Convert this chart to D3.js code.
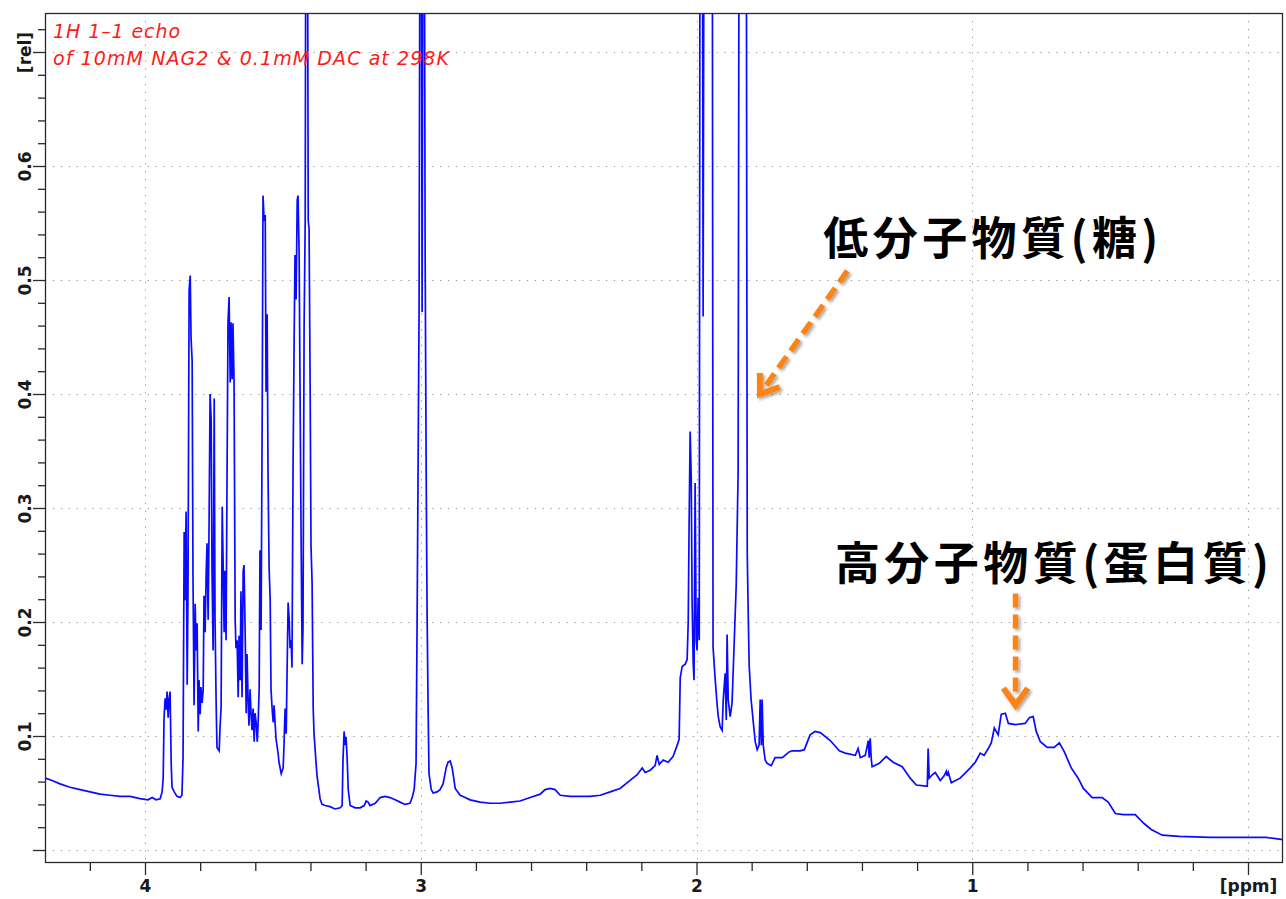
<!DOCTYPE html>
<html>
<head>
<meta charset="utf-8">
<script src="https://cdn.jsdelivr.net/npm/d3@7"></script>
<style>
  html, body { margin: 0; padding: 0; background: #ffffff; }
  svg { display: block; }
</style>
</head>
<body>
<svg id="chart" width="1286" height="899"></svg>
<script>
// 1H spectrum, 1-1 echo: chemical shift (ppm) and relative intensity.
// Values above the frame (0.95) are peaks that run off the top of the plot.
const shiftPpm = [
  4.362, 4.337, 4.308, 4.272, 4.235, 4.199, 4.163, 4.127, 4.090, 4.054, 4.018, 3.989, 3.974, 3.960, 3.945, 3.938,
  3.934, 3.931, 3.927, 3.923, 3.920, 3.916, 3.913, 3.909, 3.905, 3.902, 3.894, 3.884, 3.873, 3.866,
  3.862, 3.858, 3.855, 3.851, 3.847, 3.844, 3.840, 3.836, 3.833, 3.829, 3.826, 3.822, 3.818, 3.815, 3.811, 3.807,
  3.804, 3.800, 3.797, 3.793, 3.789, 3.786, 3.782, 3.778, 3.775, 3.771, 3.768, 3.764, 3.760, 3.757, 3.753, 3.749,
  3.746, 3.742, 3.739, 3.731, 3.728, 3.724, 3.720, 3.717, 3.713, 3.710, 3.706, 3.702, 3.699, 3.695, 3.691, 3.688,
  3.684, 3.681, 3.677, 3.673, 3.670, 3.666, 3.662, 3.659, 3.655, 3.652, 3.648, 3.644, 3.641, 3.637, 3.633, 3.630,
  3.626, 3.623, 3.619, 3.615, 3.612, 3.608, 3.604, 3.601, 3.597, 3.593, 3.590, 3.586, 3.583, 3.579, 3.575, 3.572,
  3.568, 3.564, 3.561, 3.557, 3.554, 3.550, 3.546, 3.543, 3.539, 3.535, 3.532, 3.525, 3.517, 3.514, 3.506, 3.499,
  3.496, 3.492, 3.488, 3.485, 3.481, 3.477, 3.474, 3.470, 3.467, 3.463, 3.459, 3.456, 3.452, 3.448, 3.445, 3.441,
  3.438, 3.434, 3.430, 3.427, 3.423, 3.419, 3.416, 3.412, 3.408, 3.405, 3.401, 3.398, 3.394, 3.390, 3.387, 3.379,
  3.376, 3.369, 3.365, 3.358,
  3.347, 3.329, 3.311, 3.292, 3.285, 3.282, 3.278, 3.274, 3.271, 3.267, 3.263, 3.256, 3.238, 3.220, 3.205, 3.198,
  3.191, 3.184, 3.165, 3.147, 3.129, 3.111, 3.093, 3.075, 3.057, 3.039, 3.031, 3.024, 3.017, 3.013, 3.010, 3.006,
  3.002, 2.999, 2.995, 2.991, 2.988, 2.984, 2.980, 2.977, 2.973, 2.970, 2.962, 2.955, 2.941, 2.930, 2.919, 2.908,
  2.901, 2.893, 2.886, 2.875, 2.857, 2.839, 2.821, 2.785, 2.748, 2.712, 2.676, 2.640, 2.603, 2.567, 2.549, 2.531,
  2.513, 2.494, 2.458, 2.422, 2.386, 2.349, 2.313, 2.277, 2.241, 2.215, 2.197, 2.186, 2.168, 2.150, 2.143, 2.135,
  2.121, 2.103, 2.085, 2.070, 2.063, 2.059, 2.052, 2.041, 2.034, 2.030, 2.027, 2.023, 2.019, 2.016, 2.012, 2.009,
  2.005, 2.001, 1.998, 1.994, 1.990, 1.987, 1.979, 1.976, 1.972, 1.943, 1.940, 1.932, 1.925, 1.921, 1.914, 1.907,
  1.903, 1.896, 1.892, 1.889, 1.885, 1.878, 1.871, 1.863, 1.856, 1.852, 1.849, 1.845, 1.820, 1.816, 1.812, 1.809,
  1.802, 1.794, 1.787, 1.780, 1.773, 1.769, 1.765, 1.762, 1.758, 1.751, 1.744, 1.729, 1.715, 1.689, 1.664, 1.653,
  1.624, 1.609, 1.588, 1.570, 1.551, 1.515, 1.482, 1.461, 1.424, 1.414, 1.406, 1.388, 1.377, 1.374, 1.370, 1.366,
  1.363, 1.337, 1.312, 1.287, 1.254, 1.225, 1.203, 1.167, 1.163, 1.160, 1.156, 1.145, 1.134, 1.116, 1.102, 1.094,
  1.091, 1.087, 1.076, 1.044, 1.007, 0.989, 0.971, 0.957, 0.942, 0.931, 0.920, 0.913, 0.906, 0.895, 0.880, 0.869,
  0.844, 0.808, 0.793, 0.779, 0.768, 0.753, 0.728, 0.703, 0.684, 0.666, 0.641, 0.616, 0.597, 0.565, 0.529, 0.507,
  0.481, 0.452, 0.409, 0.376, 0.351, 0.311, 0.249, 0.137, 0.010, -0.066, -0.128
];
const intensity = [
  0.063, 0.061, 0.058, 0.055, 0.053, 0.051, 0.049, 0.048, 0.047, 0.047, 0.045, 0.044, 0.046, 0.044, 0.045, 0.051,
  0.063, 0.115, 0.133, 0.123, 0.139, 0.116, 0.132, 0.139, 0.076, 0.055, 0.051, 0.047, 0.046, 0.048,
  0.081, 0.279, 0.219, 0.297, 0.145, 0.229, 0.491, 0.504, 0.449, 0.429, 0.241, 0.127, 0.216, 0.175, 0.199, 0.104,
  0.149, 0.119, 0.143, 0.129, 0.140, 0.223, 0.191, 0.245, 0.269, 0.202, 0.275, 0.400, 0.377, 0.245, 0.175, 0.396,
  0.202, 0.129, 0.090, 0.087, 0.107, 0.125, 0.301, 0.257, 0.191, 0.245, 0.184, 0.347, 0.463, 0.485, 0.410, 0.463,
  0.413, 0.462, 0.410, 0.202, 0.177, 0.184, 0.134, 0.188, 0.149, 0.227, 0.134, 0.245, 0.250, 0.195, 0.120, 0.172,
  0.131, 0.109, 0.141, 0.117, 0.105, 0.124, 0.095, 0.120, 0.112, 0.095, 0.110, 0.141, 0.263, 0.193, 0.381, 0.574,
  0.552, 0.557, 0.402, 0.470, 0.334, 0.248, 0.219, 0.141, 0.124, 0.112, 0.127, 0.098, 0.084, 0.077, 0.067, 0.072,
  0.091, 0.124, 0.102, 0.152, 0.217, 0.202, 0.177, 0.184, 0.160, 0.338, 0.452, 0.522, 0.483, 0.570, 0.574, 0.522,
  0.412, 0.277, 0.163, 0.195, 0.459, 0.552, 0.950, 0.950, 0.552, 0.545, 0.402, 0.267, 0.234, 0.124, 0.102, 0.074,
  0.065, 0.052, 0.045, 0.040,
  0.039, 0.038, 0.036, 0.037, 0.039, 0.079, 0.104, 0.092, 0.099, 0.081, 0.053, 0.039, 0.037, 0.037, 0.039, 0.043,
  0.042, 0.039, 0.041, 0.046, 0.047, 0.046, 0.044, 0.042, 0.040, 0.041, 0.046, 0.053, 0.076, 0.208, 0.321, 0.477,
  0.950, 0.950, 0.472, 0.950, 0.950, 0.519, 0.318, 0.208, 0.118, 0.067, 0.053, 0.050, 0.051, 0.053, 0.058, 0.072,
  0.077, 0.078, 0.072, 0.054, 0.048, 0.046, 0.044, 0.042, 0.041, 0.041, 0.042, 0.043, 0.046, 0.049, 0.053, 0.054,
  0.053, 0.048, 0.047, 0.047, 0.047, 0.048, 0.051, 0.054, 0.061, 0.066, 0.072, 0.068, 0.070, 0.074, 0.083, 0.075,
  0.079, 0.077, 0.082, 0.092, 0.097, 0.151, 0.161, 0.163, 0.167, 0.200, 0.281, 0.367, 0.325, 0.219, 0.164, 0.149,
  0.322, 0.184, 0.175, 0.221, 0.184, 0.950, 0.950, 0.468, 0.950, 0.950, 0.178, 0.149, 0.127, 0.117, 0.108, 0.105,
  0.132, 0.155, 0.114, 0.189, 0.132, 0.117, 0.129, 0.184, 0.232, 0.289, 0.332, 0.950, 0.950, 0.261, 0.202, 0.162,
  0.132, 0.112, 0.095, 0.088, 0.092, 0.132, 0.092, 0.132, 0.092, 0.079, 0.076, 0.074, 0.081, 0.081, 0.086, 0.087,
  0.087, 0.088, 0.101, 0.104, 0.103, 0.096, 0.087, 0.085, 0.083, 0.089, 0.081, 0.083, 0.096, 0.081, 0.098, 0.079,
  0.073, 0.076, 0.082, 0.077, 0.073, 0.063, 0.057, 0.056, 0.056, 0.089, 0.063, 0.066, 0.068, 0.061, 0.065, 0.069,
  0.065, 0.068, 0.059, 0.063, 0.072, 0.077, 0.085, 0.083, 0.089, 0.094, 0.107, 0.104, 0.101, 0.119, 0.120, 0.111,
  0.110, 0.111, 0.116, 0.117, 0.104, 0.095, 0.090, 0.090, 0.094, 0.086, 0.072, 0.063, 0.054, 0.046, 0.046, 0.042,
  0.032, 0.031, 0.031, 0.023, 0.018, 0.013, 0.012, 0.011, 0.011, 0.011, 0.009
];

// Axis ticks and labels (the unit replaces the last label on each axis)
const xMajorTicks = [4, 3, 2, 1, 0];
const xTickLabels = ["4", "3", "2", "1", "[ppm]"];
const xMinorTicks = [4.2, 3.8, 3.6, 3.4, 3.2, 2.8, 2.6, 2.4, 2.2, 1.8, 1.6, 1.4, 1.2, 0.8, 0.6, 0.4, 0.2];
const yMajorTicks = [0, 0.1, 0.2, 0.3, 0.4, 0.5, 0.6, 0.7];
const yTickLabels = ["", "0.1", "0.2", "0.3", "0.4", "0.5", "0.6", "[rel]"];
const yMinorTicks = [0.02, 0.04, 0.06, 0.08, 0.12, 0.14, 0.16, 0.18, 0.22, 0.24, 0.26, 0.28,
  0.32, 0.34, 0.36, 0.38, 0.42, 0.44, 0.46, 0.48, 0.52, 0.54, 0.56, 0.58, 0.62, 0.64, 0.66, 0.68, 0.72];

const titleLines = ["1H 1\u20131 echo", "of 10mM NAG2 & 0.1mM DAC at 298K"];

// Callouts: label, arrow tail and tip in (ppm, rel)
const callouts = [
  { text: "低分子物質(糖)", at: [1.540, 0.539], width: 335, tail: [1.453, 0.508], tip: [1.770, 0.400] },
  { text: "高分子物質(蛋白質)", at: [1.498, 0.254], width: 434, tail: [0.843, 0.225], tip: [0.843, 0.127] }
];

const W = 1286, H = 899;
const frame = { left: 45, right: 1283, top: 13, bottom: 863 };

const svg = d3.select("#chart");
svg.append("rect").attr("width", W).attr("height", H).attr("fill", "#ffffff");

const x = d3.scaleLinear().domain([4, 0]).range([145, 1248]);
const y = d3.scaleLinear().domain([0, 0.7]).range([850, 52]);

const defs = svg.append("defs");
defs.append("clipPath").attr("id", "plotClip")
  .append("rect")
  .attr("x", frame.left).attr("y", frame.top)
  .attr("width", frame.right - frame.left).attr("height", frame.bottom - frame.top);
const shadow = defs.append("filter").attr("id", "arrowShadow")
  .attr("x", "-20%").attr("y", "-20%").attr("width", "140%").attr("height", "140%");
shadow.append("feDropShadow")
  .attr("dx", 2).attr("dy", 2).attr("stdDeviation", 1.6)
  .attr("flood-color", "#000").attr("flood-opacity", 0.35);

// Dotted grid at the major ticks
const grid = svg.append("g").attr("stroke", "#9a9a9a").attr("stroke-width", 1)
  .attr("stroke-dasharray", "1.3 6.6");
grid.selectAll("line.h").data(yMajorTicks).join("line")
  .attr("x1", frame.left).attr("x2", frame.right)
  .attr("y1", d => Math.round(y(d)) + 0.5).attr("y2", d => Math.round(y(d)) + 0.5);
grid.selectAll("line.v").data(xMajorTicks).join("line")
  .attr("y1", frame.top).attr("y2", frame.bottom)
  .attr("x1", d => Math.round(x(d)) + 0.5).attr("x2", d => Math.round(x(d)) + 0.5);

// Spectrum trace
const points = shiftPpm.map((p, i) => [p, intensity[i]]);
svg.append("path")
  .datum(points)
  .attr("clip-path", "url(#plotClip)")
  .attr("fill", "none")
  .attr("stroke", "#0a0aff")
  .attr("stroke-width", 1.7)
  .attr("stroke-linejoin", "miter")
  .attr("d", d3.line().x(d => x(d[0])).y(d => y(d[1])));

// Frame
svg.append("rect")
  .attr("x", frame.left + 0.5).attr("y", frame.top + 0.5)
  .attr("width", frame.right - frame.left - 1).attr("height", frame.bottom - frame.top - 1)
  .attr("fill", "none").attr("stroke", "#2a2a2a").attr("stroke-width", 1.3);

// Bottom axis
const xAxisMajor = d3.axisBottom(x).tickValues(xMajorTicks)
  .tickSize(12).tickFormat((d, i) => xTickLabels[i]).tickPadding(5);
const xAxisMinor = d3.axisBottom(x).tickValues(xMinorTicks).tickSize(8).tickFormat("");
const gxMinor = svg.append("g").attr("transform", `translate(0,${frame.bottom})`).call(xAxisMinor);
const gxMajor = svg.append("g").attr("transform", `translate(0,${frame.bottom})`).call(xAxisMajor);
[gxMinor, gxMajor].forEach(g => {
  g.select(".domain").remove();
  g.selectAll(".tick line").attr("stroke", "#2a2a2a").attr("stroke-width", 1.3);
});
gxMajor.selectAll(".tick text")
  .attr("fill", "#1a1a1a")
  .style("font-family", "'DejaVu Sans', sans-serif")
  .style("font-weight", "bold")
  .style("font-size", "17px");

// Left axis
const yAxisMajor = d3.axisLeft(y).tickValues(yMajorTicks).tickSize(12).tickFormat("");
const yAxisMinor = d3.axisLeft(y).tickValues(yMinorTicks).tickSize(7).tickFormat("");
const gyMinor = svg.append("g").attr("transform", `translate(${frame.left},0)`).call(yAxisMinor);
const gyMajor = svg.append("g").attr("transform", `translate(${frame.left},0)`).call(yAxisMajor);
[gyMinor, gyMajor].forEach(g => {
  g.select(".domain").remove();
  g.selectAll(".tick line").attr("stroke", "#2a2a2a").attr("stroke-width", 1.3);
});
gyMajor.selectAll(".tick").append("text")
  .text((d, i) => yTickLabels[i])
  .attr("transform", "translate(-20,0) rotate(-90)")
  .attr("text-anchor", "middle")
  .attr("dy", "0.35em")
  .attr("fill", "#1a1a1a")
  .style("font-family", "'DejaVu Sans', sans-serif")
  .style("font-weight", "bold")
  .style("font-size", "17px");
gyMajor.selectAll(".tick").filter(d => d === 0.7).select("text")
  .attr("transform", "translate(-20,-19) rotate(-90)");

// Sample description
svg.append("g").selectAll("text").data(titleLines).join("text")
  .attr("x", 53).attr("y", (d, i) => 38 + i * 27)
  .attr("fill", "#ff1a1a")
  .style("font-family", "'DejaVu Sans', sans-serif")
  .style("font-style", "italic")
  .style("font-size", "19px")
  .attr("textLength", (d, i) => i === 0 ? 127 : 396)
  .attr("lengthAdjust", "spacing")
  .text(d => d);

// Callout labels and dashed arrows
const orange = "#fa8418";
callouts.forEach(c => {
  svg.append("text")
    .attr("x", x(c.at[0])).attr("y", y(c.at[1]))
    .attr("dominant-baseline", "central")
    .attr("fill", "#000")
    .attr("textLength", c.width)
    .attr("lengthAdjust", "spacing")
    .style("font-family", "'Noto Sans CJK JP', sans-serif")
    .style("font-weight", "bold")
    .style("font-size", "45px")
    .text(c.text);

  const x1 = x(c.tail[0]), y1 = y(c.tail[1]);
  const x2 = x(c.tip[0]), y2 = y(c.tip[1]);
  const ang = Math.atan2(y2 - y1, x2 - x1);
  const g = svg.append("g").attr("filter", "url(#arrowShadow)")
    .attr("stroke", orange).attr("fill", "none");
  g.append("line")
    .attr("x1", x1).attr("y1", y1)
    .attr("x2", x2 - 6 * Math.cos(ang)).attr("y2", y2 - 6 * Math.sin(ang))
    .attr("stroke-width", 5.5)
    .attr("stroke-dasharray", "14 7");
  const armLen = 21, spread = 0.62;
  const arm = s => [x2 - armLen * Math.cos(ang + s * spread), y2 - armLen * Math.sin(ang + s * spread)];
  g.append("path")
    .attr("d", d3.line()([arm(1), [x2, y2], arm(-1)]))
    .attr("stroke-width", 6)
    .attr("stroke-linejoin", "miter")
    .attr("stroke-linecap", "butt");
});
</script>
</body>
</html>
